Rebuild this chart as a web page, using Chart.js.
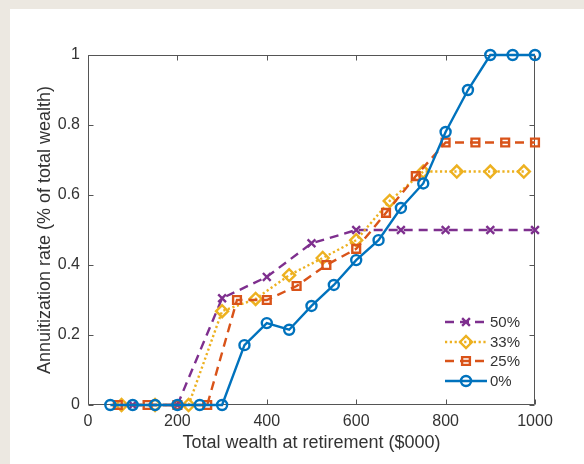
<!DOCTYPE html>
<html>
<head>
<meta charset="utf-8">
<script src="https://cdn.jsdelivr.net/npm/chart.js"></script>
<style>
  html, body { margin: 0; padding: 0; background: #ece8e1; }
  #wrap { position: absolute; left: 0; top: 0; width: 584px; height: 464px; }
</style>
</head>
<body>
<div id="wrap"><canvas id="c" width="584" height="464"></canvas></div>
<script>
// Legend labels, in plotting order
const seriesLabels = ['50%', '33%', '25%', '0%'];

// 50% series
const wealth50 = [100, 200, 300, 400, 500, 600, 700, 800, 900, 1000];
const rate50   = [0, 0, 0.305, 0.366, 0.462, 0.5, 0.5, 0.5, 0.5, 0.5];

// 33% series
const wealth33 = [75, 150, 225, 300, 375, 450, 525, 600, 675, 750, 825, 900, 975];
const rate33   = [0, 0, 0, 0.268, 0.303, 0.371, 0.42, 0.471, 0.583, 0.667, 0.667, 0.667, 0.667];

// 25% series
const wealth25 = [66.7, 133.3, 200, 266.7, 333.3, 400, 466.7, 533.3, 600, 666.7, 733.3, 800, 866.7, 933.3, 1000];
const rate25   = [0, 0, 0, 0, 0.30, 0.30, 0.34, 0.40, 0.446, 0.549, 0.654, 0.75, 0.75, 0.75, 0.75];

// 0% series
const wealth0 = [50, 100, 150, 200, 250, 300, 350, 400, 450, 500, 550, 600, 650, 700, 750, 800, 850, 900, 950, 1000];
const rate0   = [0, 0, 0, 0, 0, 0, 0.171, 0.234, 0.215, 0.283, 0.343, 0.414, 0.471, 0.563, 0.633, 0.78, 0.9, 1, 1, 1];

// Axis ticks
const xTicks = [0, 200, 400, 600, 800, 1000];
const yTicks = [0, 0.2, 0.4, 0.6, 0.8, 1];

const xTitle = 'Total wealth at retirement ($000)';
const yTitle = 'Annuitization rate (% of total wealth)';

const FONT = 'Liberation Sans, Arial, Helvetica, sans-serif';
const TEXT = '#333333';
const AXIS = '#555555';
const LW = 2.4;

const pairs = (xs, ys) => xs.map((x, i) => ({ x: x, y: ys[i] }));

const styles = [
  { color: '#7E2F8E', dash: [9, 6], point: 'crossRot', radius: 5.5 },
  { color: '#EDB120', dash: [2.2, 2.6], point: 'rectRot', radius: 6 },
  { color: '#D95319', dash: [9, 6], point: 'rect', radius: 5.5 },
  { color: '#0072BD', dash: [], point: 'circle', radius: 5 }
];

const sources = [[wealth50, rate50], [wealth33, rate33], [wealth25, rate25], [wealth0, rate0]];

const datasets = sources.map((s, i) => ({
  label: seriesLabels[i],
  data: pairs(s[0], s[1]),
  borderColor: styles[i].color,
  borderWidth: LW,
  borderDash: styles[i].dash,
  pointStyle: styles[i].point,
  pointRadius: styles[i].radius,
  pointBorderWidth: LW,
  pointBorderColor: styles[i].color,
  pointBackgroundColor: 'rgba(0,0,0,0)',
  fill: false,
  tension: 0,
  clip: false,
  order: sources.length - 1 - i   // later series drawn on top
}));

// Panel background, axes box with inward ticks, and an in-plot legend
const framePlugin = {
  id: 'frame',
  beforeDraw(chart) {
    const ctx = chart.ctx;
    ctx.save();
    ctx.fillStyle = '#ece8e1';
    ctx.fillRect(0, 0, chart.width, chart.height);
    ctx.fillStyle = '#ffffff';
    ctx.fillRect(10, 9, chart.width - 10, chart.height - 9);
    ctx.restore();
  },
  beforeDatasetsDraw(chart) {
    const { ctx, chartArea: a, scales } = chart;
    const L = Math.round(a.left) + 0.5, R = Math.round(a.right) - 0.5;
    const T = Math.round(a.top) + 0.5, B = Math.round(a.bottom) - 0.5;
    const len = 5;
    ctx.save();
    ctx.strokeStyle = AXIS;
    ctx.lineWidth = 1;
    ctx.beginPath();
    ctx.rect(L, T, R - L, B - T);
    xTicks.forEach(v => {
      const px = Math.round(scales.x.getPixelForValue(v)) + 0.5;
      ctx.moveTo(px, B); ctx.lineTo(px, B - len);
      ctx.moveTo(px, T); ctx.lineTo(px, T + len);
    });
    yTicks.forEach(v => {
      const py = Math.round(scales.y.getPixelForValue(v)) + 0.5;
      ctx.moveTo(L, py); ctx.lineTo(L + len, py);
      ctx.moveTo(R, py); ctx.lineTo(R - len, py);
    });
    ctx.stroke();
    ctx.restore();
  },
  afterDraw(chart) {
    const ctx = chart.ctx;
    const x0 = 445, x1 = 487, xm = 466, xt = 490;
    const rows = [322, 342, 361, 381];
    ctx.save();
    chart.data.datasets.forEach((ds, i) => {
      const y = rows[i];
      ctx.save();
      ctx.strokeStyle = ds.borderColor;
      ctx.lineWidth = LW;
      ctx.setLineDash(ds.borderDash);
      ctx.beginPath();
      ctx.moveTo(x0, y); ctx.lineTo(x1, y);
      ctx.stroke();
      ctx.restore();
      ctx.save();
      ctx.strokeStyle = ds.pointBorderColor;
      ctx.fillStyle = ds.pointBackgroundColor;
      ctx.lineWidth = LW;
      Chart.helpers.drawPoint(ctx, { pointStyle: ds.pointStyle, radius: ds.pointRadius, rotation: 0, borderWidth: LW }, xm, y);
      ctx.restore();
      ctx.fillStyle = TEXT;
      ctx.font = '15px ' + FONT;
      ctx.textAlign = 'left';
      ctx.textBaseline = 'middle';
      ctx.fillText(ds.label, xt, y + 1);
    });
    ctx.restore();
  }
};

const plainLabel = v => String(v);

new Chart(document.getElementById('c'), {
  type: 'line',
  data: { datasets: datasets },
  plugins: [framePlugin],
  options: {
    responsive: false,
    animation: false,
    devicePixelRatio: 1,
    layout: { padding: { left: 0, right: 49, top: 55, bottom: 0 } },
    plugins: { legend: { display: false }, tooltip: { enabled: false } },
    scales: {
      x: {
        type: 'linear',
        min: 0, max: 1000,
        afterBuildTicks: s => { s.ticks = xTicks.map(v => ({ value: v })); },
        afterFit: s => { s.height = 59; },
        grid: { display: false, drawTicks: false },
        border: { display: false },
        ticks: { color: TEXT, font: { family: FONT, size: 16 }, padding: 7, maxRotation: 0, autoSkip: false, callback: plainLabel },
        title: { display: true, text: xTitle, color: TEXT, font: { family: FONT, size: 18 }, padding: { top: 0, bottom: 10 } }
      },
      y: {
        type: 'linear',
        min: 0, max: 1,
        afterBuildTicks: s => { s.ticks = yTicks.map(v => ({ value: v })); },
        afterFit: s => { s.width = 88; },
        grid: { display: false, drawTicks: false },
        border: { display: false },
        ticks: { color: TEXT, font: { family: FONT, size: 16 }, padding: 8, autoSkip: false, callback: plainLabel },
        title: { display: true, text: yTitle, color: TEXT, font: { family: FONT, size: 18 }, padding: { top: 34, bottom: 0 } }
      }
    }
  }
});
</script>
</body>
</html>
